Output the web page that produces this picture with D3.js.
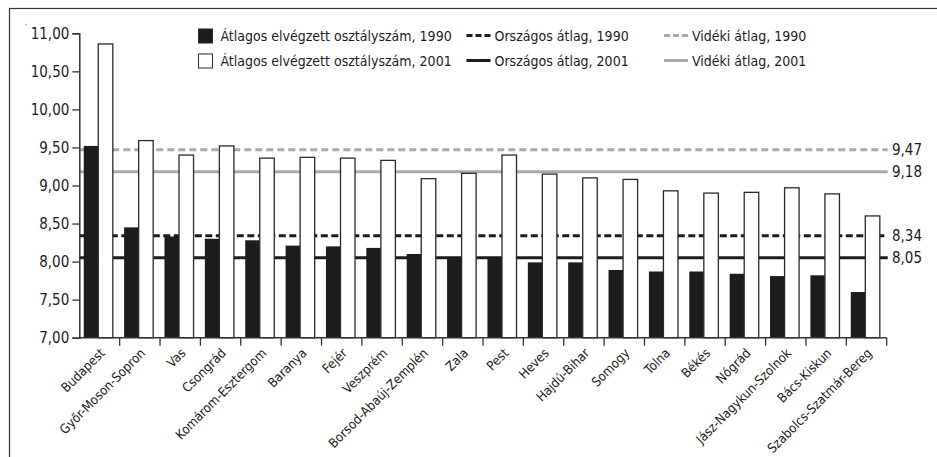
<!DOCTYPE html>
<html><head><meta charset="utf-8">
<script src="https://cdn.jsdelivr.net/npm/d3@7/dist/d3.min.js"></script>
<style>
html,body{margin:0;padding:0;background:#fff;}
svg{display:block;}
text{font-family:"DejaVu Sans Condensed","Liberation Sans Narrow",sans-serif;fill:#1c1c1c;}
</style></head><body>
<svg id="c" width="937" height="457"></svg>
<script>
const categories = ["Budapest","Győr-Moson-Sopron","Vas","Csongrád","Komárom-Esztergom","Baranya","Fejér","Veszprém","Borsod-Abaúj-Zemplén","Zala","Pest","Heves","Hajdú-Bihar","Somogy","Tolna","Békés","Nógrád","Jász-Nagykun-Szolnok","Bács-Kiskun","Szabolcs-Szatmár-Bereg"];
const values1990 = [9.52,8.45,8.33,8.30,8.28,8.21,8.20,8.18,8.10,8.06,8.05,7.99,7.99,7.89,7.87,7.87,7.84,7.81,7.82,7.60];
const values2001 = [10.86,9.59,9.40,9.52,9.36,9.37,9.36,9.33,9.09,9.16,9.40,9.15,9.10,9.08,8.93,8.90,8.91,8.97,8.89,8.60];
const yTicks = [7,7.5,8,8.5,9,9.5,10,10.5,11];
const refLines = [
  {name:"Országos átlag, 1990", value:8.34, color:"#1c1c1c", dash:"7,3.5"},
  {name:"Országos átlag, 2001", value:8.05, color:"#1c1c1c", dash:null},
  {name:"Vidéki átlag, 1990", value:9.47, color:"#a9a9a9", dash:"7,4"},
  {name:"Vidéki átlag, 2001", value:9.18, color:"#a9a9a9", dash:null}
];
const barSeries = [
  {name:"Átlagos elvégzett osztályszám, 1990", key:"v1990", fill:"#1c1c1c"},
  {name:"Átlagos elvégzett osztályszám, 2001", key:"v2001", fill:"#ffffff"}
];

const data = categories.map((c,i)=>({cat:c, v1990:values1990[i], v2001:values2001[i]}));
const fmt = v => d3.format(".2f")(v).replace(".", ",");

const svg = d3.select("#c");
svg.append("rect").attr("x",9.5).attr("y",8.5).attr("width",940).attr("height",460)
  .attr("fill","none").attr("stroke","#333").attr("stroke-width",1.2);
svg.append("circle").attr("cx",26).attr("cy",24.5).attr("r",0.7).attr("fill","#888");

const L = 79.3, R = 886.7, T = 33.3, B = 337.7;
const x = d3.scaleBand().domain(categories).range([L,R]).padding(0);
const x1 = d3.scaleBand().domain(["v1990","v2001"]).range([x.bandwidth()*0.11, x.bandwidth()*0.83]).padding(0);
const y = d3.scaleLinear().domain([7,11]).range([B,T]);

const refG = svg.append("g");
refG.selectAll("line").data(refLines).join("line")
  .attr("x1",L).attr("x2",R+1).attr("y1",d=>y(d.value)).attr("y2",d=>y(d.value))
  .attr("stroke",d=>d.color).attr("stroke-width",3)
  .attr("stroke-dasharray",d=>d.dash);
refG.selectAll("text").data(refLines).join("text")
  .attr("x",892).attr("y",d=>y(d.value)).attr("dy","0.35em")
  .attr("font-size",15).text(d=>fmt(d.value));

const g = svg.append("g");
const grp = g.selectAll("g").data(data).join("g").attr("transform",d=>`translate(${x(d.cat)},0)`);
grp.selectAll("rect").data(d=>barSeries.map(s=>({s, v:d[s.key]}))).join("rect")
  .attr("x",d=>x1(d.s.key)).attr("width",x1.bandwidth())
  .attr("y",d=>y(d.v)).attr("height",d=>B-y(d.v))
  .attr("fill",d=>d.s.fill)
  .attr("stroke",d=>d.s.key==="v2001"?"#2a2a2a":"none").attr("stroke-width",1.3);

const yAxis = d3.axisLeft(y).tickValues(yTicks).tickFormat(fmt).tickSize(7).tickPadding(3);
const ya = svg.append("g").attr("transform",`translate(${L},0)`).call(yAxis);
ya.select(".domain").attr("stroke","#333").attr("stroke-width",1.5);
ya.selectAll(".tick line").attr("stroke","#333").attr("stroke-width",1.3);
ya.selectAll(".tick text").attr("font-size",15).attr("fill","#1c1c1c")
  .style("font-family",'"DejaVu Sans Condensed",sans-serif');

const xa = svg.append("g").attr("transform",`translate(0,${B})`);
xa.append("line").attr("x1",L).attr("x2",R).attr("stroke","#333").attr("stroke-width",1.5);
const bounds = categories.map(c=>x(c)).slice(1).concat([R]);
xa.selectAll("line.tk").data(bounds).join("line").attr("class","tk")
  .attr("x1",d=>d).attr("x2",d=>d).attr("y1",0).attr("y2",8)
  .attr("stroke","#333").attr("stroke-width",1.3);
xa.selectAll("text").data(categories).join("text")
  .attr("transform",d=>`translate(${x(d)+x.bandwidth()/2+3},13) rotate(-45)`)
  .attr("text-anchor","end").attr("font-size",13).attr("dy","0.35em")
  .text(d=>d);

const lg = svg.append("g");
barSeries.forEach((s,i)=>{
  const yy = 36 + i*25;
  lg.append("rect").attr("x",198.5).attr("y",yy-7).attr("width",14).attr("height",14)
    .attr("fill",s.fill).attr("stroke","#2a2a2a").attr("stroke-width",1);
  lg.append("text").attr("x",220.5).attr("y",yy).attr("dy","0.35em").attr("font-size",14).text(s.name);
});
const lineLegX = [466.5, 664];
refLines.forEach((r,i)=>{
  const col = Math.floor(i/2), row = i%2;
  const yy = 35.5 + row*25;
  const lx = lineLegX[col];
  lg.append("line").attr("x1",lx).attr("x2",lx+24).attr("y1",yy).attr("y2",yy)
    .attr("stroke",r.color).attr("stroke-width",3).attr("stroke-dasharray",r.dash?"6,3":null);
  lg.append("text").attr("x",lx+28).attr("y",yy+0.5).attr("dy","0.35em").attr("font-size",14).text(r.name);
});
</script>
</body></html>
